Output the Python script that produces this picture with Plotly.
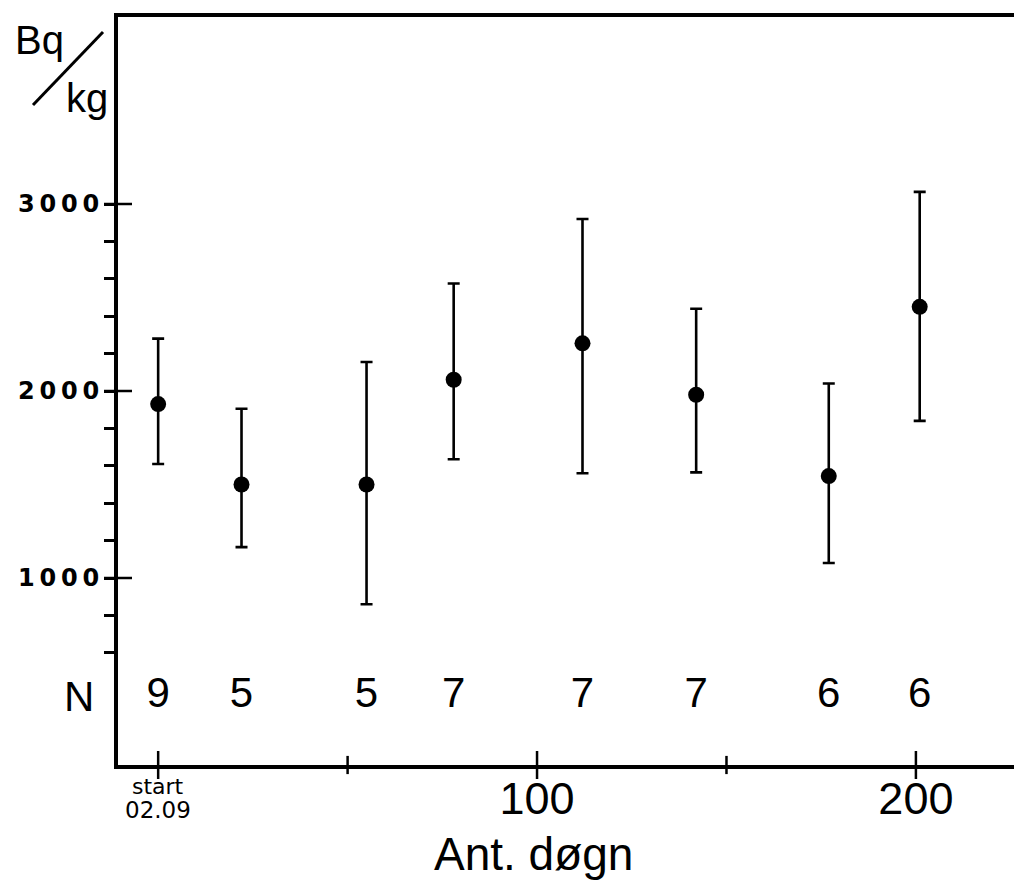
import plotly.graph_objects as go

# ---- data ----
days = [0, 22, 55, 78, 112, 142, 177, 201]
mean_bq = [1930, 1500, 1500, 2060, 2255, 1980, 1545, 2450]
upper_bq = [2280, 1905, 2155, 2575, 2920, 2440, 2040, 3065]
lower_bq = [1610, 1165, 860, 1635, 1560, 1565, 1080, 1840]
n_obs = [9, 5, 5, 7, 7, 7, 6, 6]

y_major = [1000, 2000, 3000]
y_major_text = ["1\u20090\u20090\u20090", "2\u20090\u20090\u20090", "3\u20090\u20090\u20090"]
y_all_ticks = list(range(600, 3001, 200))
x_major = [0, 100, 200]
x_minor = [50, 150]
x_ticks = [0, 50, 100, 150, 200]
x_tick_text = ["", "", "100", "", "200"]
N_ROW_Y = 368

# page has an 8px body margin: the figure starts at page (8, 8)
OFF = 8
PAGE_W, PAGE_H = 1022, 882
W, H = PAGE_W - OFF, PAGE_H - OFF
PLOT_LEFT, PLOT_TOP, PLOT_BOTTOM = 118, 17, 765  # page pixels
L = PLOT_LEFT - OFF
T = PLOT_TOP - OFF
B = PAGE_H - PLOT_BOTTOM
R = 0
PW, PH = W - L - R, H - T - B

def px(x_page):
    return (x_page - OFF - L) / PW

def py(y_page):
    return (PLOT_BOTTOM - y_page) / PH

FONT = "Liberation Sans, Arial, sans-serif"
FONT2 = "DejaVu Sans, sans-serif"

err_plus = [u - m for u, m in zip(upper_bq, mean_bq)]
err_minus = [m - l for m, l in zip(mean_bq, lower_bq)]

xr = [-10.6, 228]
yr = [0, 4000]

fig = go.Figure()
fig.add_trace(go.Scatter(
    x=days, y=mean_bq, mode="markers",
    marker=dict(color="black", size=16),
    error_y=dict(type="data", symmetric=False, array=err_plus, arrayminus=err_minus,
                 color="black", thickness=2.6, width=6),
    showlegend=False, hoverinfo="skip",
))
fig.add_trace(go.Scatter(
    x=days, y=[N_ROW_Y] * len(days), mode="text",
    text=[str(n) for n in n_obs],
    textfont=dict(family=FONT, size=42, color="black"),
    showlegend=False, hoverinfo="skip",
))
# crossing tick marks (centred on the axis lines)
tick_line = dict(color="black", width=2.5)
fig.add_trace(go.Scatter(
    x=[xr[0]] * len(y_major), y=y_major, mode="markers", cliponaxis=False,
    marker=dict(symbol="line-ew", size=20, line=tick_line),
    showlegend=False, hoverinfo="skip",
))
fig.add_trace(go.Scatter(
    x=x_major, y=[yr[0]] * len(x_major), mode="markers", cliponaxis=False,
    marker=dict(symbol="line-ns", size=20, line=tick_line),
    showlegend=False, hoverinfo="skip",
))
fig.add_trace(go.Scatter(
    x=x_minor, y=[yr[0]] * len(x_minor), mode="markers", cliponaxis=False,
    marker=dict(symbol="line-ns", size=13, line=tick_line),
    showlegend=False, hoverinfo="skip",
))

fig.update_layout(
    width=W, height=H,
    margin=dict(l=L, r=R, t=T, b=B, pad=0, autoexpand=False),
    paper_bgcolor="white", plot_bgcolor="white",
    xaxis=dict(
        range=xr, showgrid=False, zeroline=False,
        showline=True, linecolor="black", linewidth=4, mirror=True,
        ticks="outside", ticklen=9, tickwidth=2.5, tickcolor="rgba(0,0,0,0)",
        tickmode="array", tickvals=x_ticks, ticktext=x_tick_text,
        tickfont=dict(family=FONT, size=45, color="black"),
        ticklabelstandoff=-18,
    ),
    yaxis=dict(
        range=yr, showgrid=False, zeroline=False,
        showline=True, linecolor="black", linewidth=4,
        ticks="outside", ticklen=10, tickwidth=2.5, tickcolor="black",
        tickmode="array", tickvals=y_all_ticks,
        ticktext=[y_major_text[y_major.index(v)] if v in y_major else "" for v in y_all_ticks],
        tickfont=dict(family=FONT2, size=24, color="black", weight="bold"),
    ),
)

annotations = [
    dict(text="start", x=0, xref="x", y=py(786), yref="paper",
         xanchor="center", yanchor="middle", showarrow=False,
         font=dict(family=FONT2, size=22, color="black")),
    dict(text="02.09", x=0, xref="x", y=py(810), yref="paper",
         xanchor="center", yanchor="middle", showarrow=False,
         font=dict(family=FONT2, size=23, color="black")),
    dict(text="Ant. døgn", x=px(533), xref="paper", y=py(854), yref="paper",
         xanchor="center", yanchor="middle", showarrow=False,
         font=dict(family=FONT, size=46, color="black")),
    dict(text="N", x=px(79), xref="paper", y=N_ROW_Y, yref="y",
         xanchor="center", yanchor="middle", showarrow=False,
         font=dict(family=FONT, size=42, color="black")),
    dict(text="Bq", x=px(13), xref="paper", y=py(40), yref="paper",
         xanchor="left", yanchor="middle", showarrow=False,
         font=dict(family=FONT, size=40, color="black")),
    dict(text="kg", x=px(64), xref="paper", y=py(98), yref="paper",
         xanchor="left", yanchor="middle", showarrow=False,
         font=dict(family=FONT, size=40, color="black")),
]
fig.update_layout(annotations=annotations)
fig.add_shape(type="line", xref="paper", yref="paper",
              x0=px(33), y0=py(105), x1=px(103), y1=py(32),
              line=dict(color="black", width=3))

fig.write_html("out.html")
